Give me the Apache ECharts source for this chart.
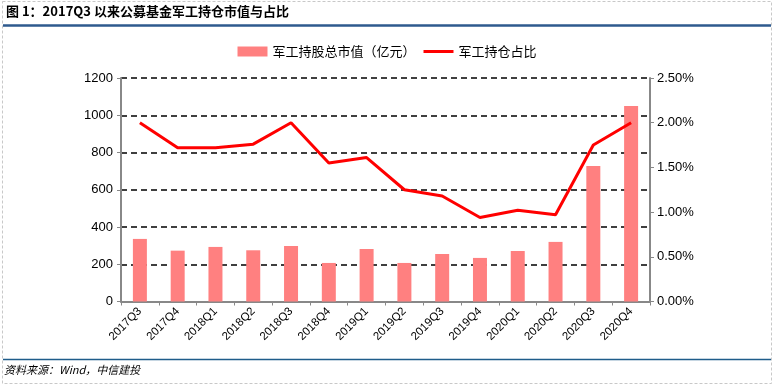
<!DOCTYPE html>
<html><head><meta charset="utf-8">
<script src="https://cdn.jsdelivr.net/npm/echarts@6/dist/echarts.min.js"></script>
<style>html,body{margin:0;padding:0;background:#fff}#c{width:774px;height:385px}</style>
</head><body><div id="c"></div>
<script>
const categories = ['2017Q3','2017Q4','2018Q1','2018Q2','2018Q3','2018Q4','2019Q1','2019Q2','2019Q3','2019Q4','2020Q1','2020Q2','2020Q3','2020Q4'];
const marketValue = [336, 273, 293, 275, 298, 207, 282, 207, 255, 234, 271, 320, 728, 1050];
const holdingRatio = [2.00, 1.72, 1.72, 1.76, 2.00, 1.55, 1.61, 1.25, 1.18, 0.94, 1.02, 0.97, 1.75, 2.00];
const leftTicks = [0, 1200, 200];
const rightTicks = [0, 2.5, 0.5];

const chart = echarts.init(document.getElementById('c'));
const fontFam = '"Liberation Sans", Arial, sans-serif';
chart.setOption({
  animation: false,
  backgroundColor: '#fff',
  graphic: [
    {type:'rect', shape:{x:2.5,y:1.5,width:769,height:382}, style:{fill:'none', stroke:'#c8c8c8', lineWidth:1, lineDash:[3,2]}, silent:true},
    {type:'text', left:6, top:5, style:{text:'图 1：2017Q3 以来公募基金军工持仓市值与占比', font:'bold 13px "Noto Sans CJK SC", sans-serif', fill:'#000'}},
    {type:'line', shape:{x1:3,y1:25.5,x2:771,y2:25.5}, style:{stroke:'#2E5A8E', lineWidth:2.5}},
    {type:'line', shape:{x1:3,y1:359.5,x2:771,y2:359.5}, style:{stroke:'#1F5C8A', lineWidth:1.5}},
    {type:'text', left:4, top:364, style:{text:'资料来源：Wind，中信建投', font:'italic 11px "Noto Sans CJK SC", sans-serif', fill:'#000'}}
  ],
  legend: {
    top: 40, left: 'center', itemGap: 8, itemWidth: 30, itemHeight: 10, symbolKeepAspect: true,
    textStyle: {fontSize: 13, color: '#000', fontFamily: '"Noto Sans CJK SC", sans-serif'},
    data: [
      {name:'军工持股总市值（亿元）', icon:'rect'},
      {name:'军工持仓占比', icon:'path://M0,0H30V3H0Z', itemStyle:{color:'#FF0000'}}
    ]
  },
  grid: {left: 121, right: 124, top: 78, bottom: 83.5, containLabel: false},
  xAxis: {
    type: 'category', data: categories,
    axisLine: {lineStyle: {color: '#888', width: 2}},
    axisTick: {show: true, lineStyle: {color: '#888'}, length: 4},
    axisLabel: {rotate: 45, fontSize: 11.5, color: '#000', fontFamily: fontFam, margin: 8}
  },
  yAxis: [{
    type: 'value', min: leftTicks[0], max: leftTicks[1], interval: leftTicks[2],
    axisLine: {show: true, lineStyle: {color: '#888', width: 2}},
    axisTick: {show: true, lineStyle: {color: '#888'}, length: 4},
    axisLabel: {fontSize: 13, color: '#000', fontFamily: fontFam, margin: 8, formatter: v => String(v)},
    splitLine: {show: true, lineStyle: {color: '#000', type: [6, 4], width: 1.5}}
  }, {
    type: 'value', min: rightTicks[0], max: rightTicks[1], interval: rightTicks[2],
    axisLine: {show: true, lineStyle: {color: '#888', width: 2}},
    axisTick: {show: true, lineStyle: {color: '#888'}, length: 4},
    axisLabel: {fontSize: 13, color: '#000', fontFamily: fontFam, margin: 7, formatter: v => v.toFixed(2) + '%'},
    splitLine: {show: false}
  }],
  series: [{
    name: '军工持股总市值（亿元）', type: 'bar', data: marketValue, barWidth: 14,
    itemStyle: {color: '#FF8080'}
  }, {
    name: '军工持仓占比', type: 'line', yAxisIndex: 1, data: holdingRatio,
    symbol: 'none', lineStyle: {color: '#FF0000', width: 3}, itemStyle: {color: '#FF0000'}
  }]
});
</script></body></html>
